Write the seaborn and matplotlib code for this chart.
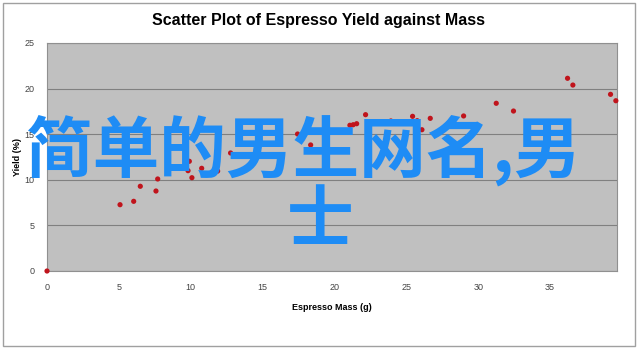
import matplotlib
matplotlib.use("Agg")
import matplotlib.pyplot as plt
import seaborn as sns
import pandas as pd
from matplotlib.patches import Rectangle

mass = [0.0, 5.08, 6.03, 6.49, 7.58, 7.70, 9.90, 9.81, 10.08, 10.76, 11.87, 12.77,
        17.43, 18.34, 21.07, 21.30, 21.54, 22.16, 23.92, 25.43, 25.75, 26.08, 26.66,
        28.98, 31.25, 32.45, 36.21, 36.58, 39.20, 39.57]
yield_pct = [0.0, 7.27, 7.64, 9.29, 8.77, 10.09, 12.03, 11.0, 10.23, 11.26, 10.96, 12.94,
             15.02, 13.82, 15.98, 16.04, 16.15, 17.14, 16.45, 16.96, 16.48, 15.49, 16.74,
             17.0, 18.39, 17.54, 21.13, 20.39, 19.37, 18.67]
x_ticks = [0, 5, 10, 15, 20, 25, 30, 35]
y_ticks = [0, 5, 10, 15, 20, 25]
title = "Scatter Plot of Espresso Yield against Mass"
x_label = "Espresso Mass (g)"
y_label = "Yield (%)"
overlay_line1 = "简单的男生网名,男"
overlay_line2 = "士"

df = pd.DataFrame({"mass": mass, "yield": yield_pct})

sns.set_theme(style="white")
plt.rcParams['font.family'] = ['Liberation Sans', 'DejaVu Sans']

fig = plt.figure(figsize=(6.4, 3.5), dpi=100)
fig.patch.set_facecolor("white")
ax = fig.add_axes([47/640, 1-271/350, (617-47)/640, (271-43)/350])
ax.set_facecolor("#c0c0c0")

sns.scatterplot(data=df, x="mass", y="yield", ax=ax, color="#c0141c",
                s=14, edgecolor="none", zorder=3, clip_on=False)

ax.set_xlim(0, 39.65)
ax.set_ylim(0, 25)
ax.set_xticks(x_ticks)
ax.set_yticks(y_ticks)
ax.set_xticklabels([str(t) for t in x_ticks], fontsize=6.5, color="#444444")
ax.set_yticklabels([str(t) for t in y_ticks], fontsize=6.5, color="#444444")
ax.tick_params(axis="both", length=3, width=0.6, color="#808080", pad=6, direction="out")
ax.yaxis.grid(True, color="#808080", linewidth=0.8, zorder=1)
ax.set_axisbelow(True)
for sp in ax.spines.values():
    sp.set_color("#909090")
    sp.set_linewidth(0.8)

ax.set_xlabel(x_label, fontsize=6.5, fontweight="bold", color="black")
ax.set_ylabel(y_label, fontsize=6.5, fontweight="bold", color="black")
ax.xaxis.set_label_coords((332-47)/570, -(303-271)/228)
ax.yaxis.set_label_coords(-(47-22)/570, (271-157)/228)

fig.text(318/640, 1-20/350, title, ha="center", va="center", fontsize=11.5,
         fontweight="bold", color="black")

fig.text(303/640, 1-150/350, overlay_line1, ha="center", va="center", fontsize=48,
         fontweight="bold", family=['Noto Sans CJK SC', 'DejaVu Sans'],
         color="#1e8cf5", zorder=10)
fig.text(320/640, 1-221/350, overlay_line2, ha="center", va="center", fontsize=48,
         fontweight="bold", family=['Noto Sans CJK SC', 'DejaVu Sans'],
         color="#1e8cf5", zorder=10)

fig.patches.append(Rectangle((3/640, 4/350), 632/640, 343/350, transform=fig.transFigure,
                             fill=False, edgecolor="#a0a0a0", linewidth=1))

fig.savefig("out.png", dpi=100, facecolor="white")
